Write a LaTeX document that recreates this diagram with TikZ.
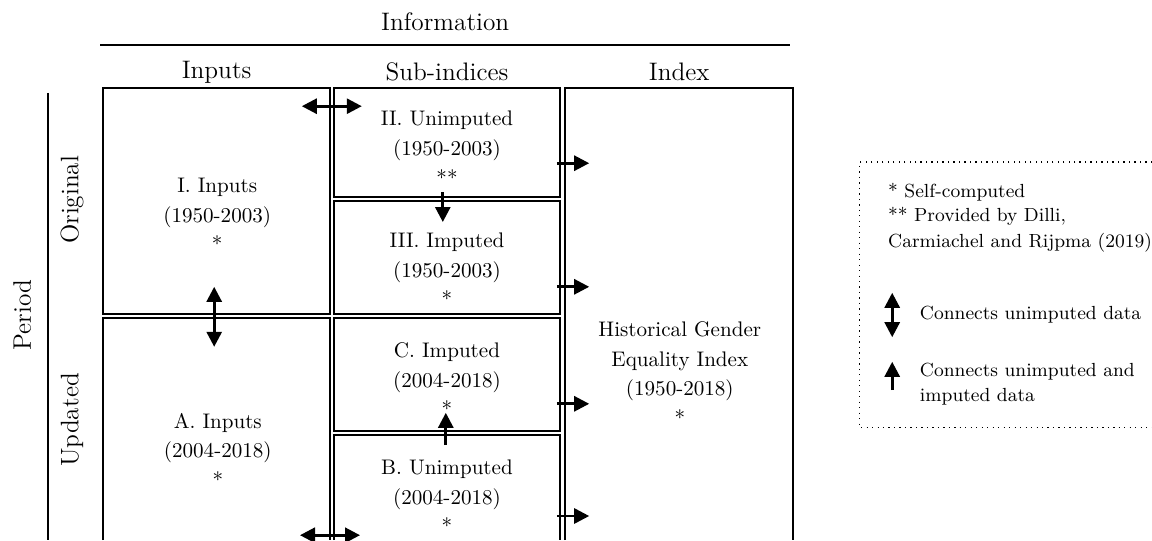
\documentclass[tikz,border=0pt]{standalone}
\usetikzlibrary{arrows.meta}

\begin{document}
\begin{tikzpicture}[line width=0.9pt,>={Triangle[length=2.5mm,width=2.5mm]},
  box/.style={line width=0.9pt},
  con/.style={->,line width=1.3pt},
  dcon/.style={<->,line width=1.3pt},
  txt/.style={align=center,font=\normalsize},
  head/.style={font=\large},
  key/.style={anchor=west,align=left,font=\small}]
\useasboundingbox (0,0) rectangle (19.2,9);
% header: information
\node[head] (info) at (7.42,8.63) {Information};
\coordinate (ruleL) at (1.67,8.25);
\coordinate (ruleR) at (13.17,8.25);
\draw[line width=1pt] (ruleL) -- (ruleR);
\node[head] (hinp) at (3.61,7.8) {Inputs};
\node[head] (hsub) at (7.45,7.8) {Sub-indices};
\node[head] (hidx) at (11.32,7.8) {Index};
% period axis
\draw[line width=1pt] (0.8,7.45) -- (0.8,0);
\node[head,rotate=90] (period) at (0.37,3.75) {Period};
\node[head,rotate=90] (orig) at (1.2,5.67) {Original};
\node[head,rotate=90] (upd) at (1.2,2.0) {Updated};
% inputs column
\draw[box] (1.72,3.77) rectangle (5.5,7.53);
\draw[box] (1.72,0) -- (1.72,3.7) -- (5.5,3.7) -- (5.5,0);
% sub-indices column
\draw[box] (5.56,5.72) rectangle (9.33,7.53);
\draw[box] (5.56,3.77) rectangle (9.33,5.65);
\draw[box] (5.56,1.82) rectangle (9.33,3.7);
\draw[box] (5.56,0) -- (5.56,1.75) -- (9.33,1.75) -- (9.33,0);
% index column
\draw[box] (9.42,0) -- (9.42,7.53) -- (13.22,7.53) -- (13.22,0);
% box texts
\node[txt] (inI) at (3.62,5.42) {I. Inputs\\[2pt](1950-2003)\\[2pt]*};
\node[txt] (inA) at (3.63,1.5) {A. Inputs\\[2pt](2004-2018)\\[2pt]*};
\node[txt] (subII) at (7.45,6.53) {II. Unimputed\\[2pt](1950-2003)\\[2pt]**};
\node[txt] (subIII) at (7.45,4.5) {III. Imputed\\[2pt](1950-2003)\\[2pt]*};
\node[txt] (subC) at (7.45,2.67) {C. Imputed\\[2pt](2004-2018)\\[2pt]*};
\node[txt] (subB) at (7.45,0.72) {B. Unimputed\\[2pt](2004-2018)\\[2pt]*};
\node[txt] (hgei) at (11.33,2.77) {Historical Gender\\[2pt]Equality Index\\[2pt](1950-2018)\\[2pt]*};
% links inputs <-> sub-indices
\coordinate (lt1) at (5.03,7.23);
\coordinate (lt2) at (6.03,7.23);
\draw[dcon] (lt1) -- (lt2);
\coordinate (lb1) at (5.0,0.08);
\coordinate (lb2) at (6.0,0.08);
\draw[dcon] (lb1) -- (lb2);
% link original <-> updated inputs
\coordinate (li1) at (3.57,4.22);
\coordinate (li2) at (3.57,3.22);
\draw[dcon] (li1) -- (li2);
% unimputed -> imputed
\coordinate (ld1) at (7.38,5.8);
\coordinate (ld2) at (7.38,5.3);
\draw[con] (ld1) -- (ld2);
\coordinate (lu1) at (7.43,1.58);
\coordinate (lu2) at (7.43,2.12);
\draw[con] (lu1) -- (lu2);
% sub-indices -> index
\foreach \y/\n in {6.28/a,4.22/b,2.27/c,0.4/d}{
  \coordinate (ix\n) at (9.28,\y);
  \coordinate (iy\n) at (9.82,\y);
  \draw[con] (ix\n) -- (iy\n);
}
% legend
\draw[dotted,line width=0.6pt] (19.2,6.3) -- (14.33,6.3) -- (14.33,1.87) -- (19.2,1.87);
\node[key] (note1) at (14.67,5.8) {* Self-computed};
\node[key] (note2) at (14.67,5.17) {** Provided by Dilli,\\[1pt]Carmiachel and Rijpma (2019)};
\coordinate (kd1) at (14.87,4.12);
\coordinate (kd2) at (14.87,3.38);
\draw[dcon] (kd1) -- (kd2);
\node[key] (keyd) at (15.2,3.75) {Connects unimputed data};
\coordinate (ku1) at (14.87,2.5);
\coordinate (ku2) at (14.87,2.97);
\draw[con] (ku1) -- (ku2);
\node[key] (keyu) at (15.2,2.6) {Connects unimputed and\\[1pt]imputed data};
\end{tikzpicture}
\end{document}
